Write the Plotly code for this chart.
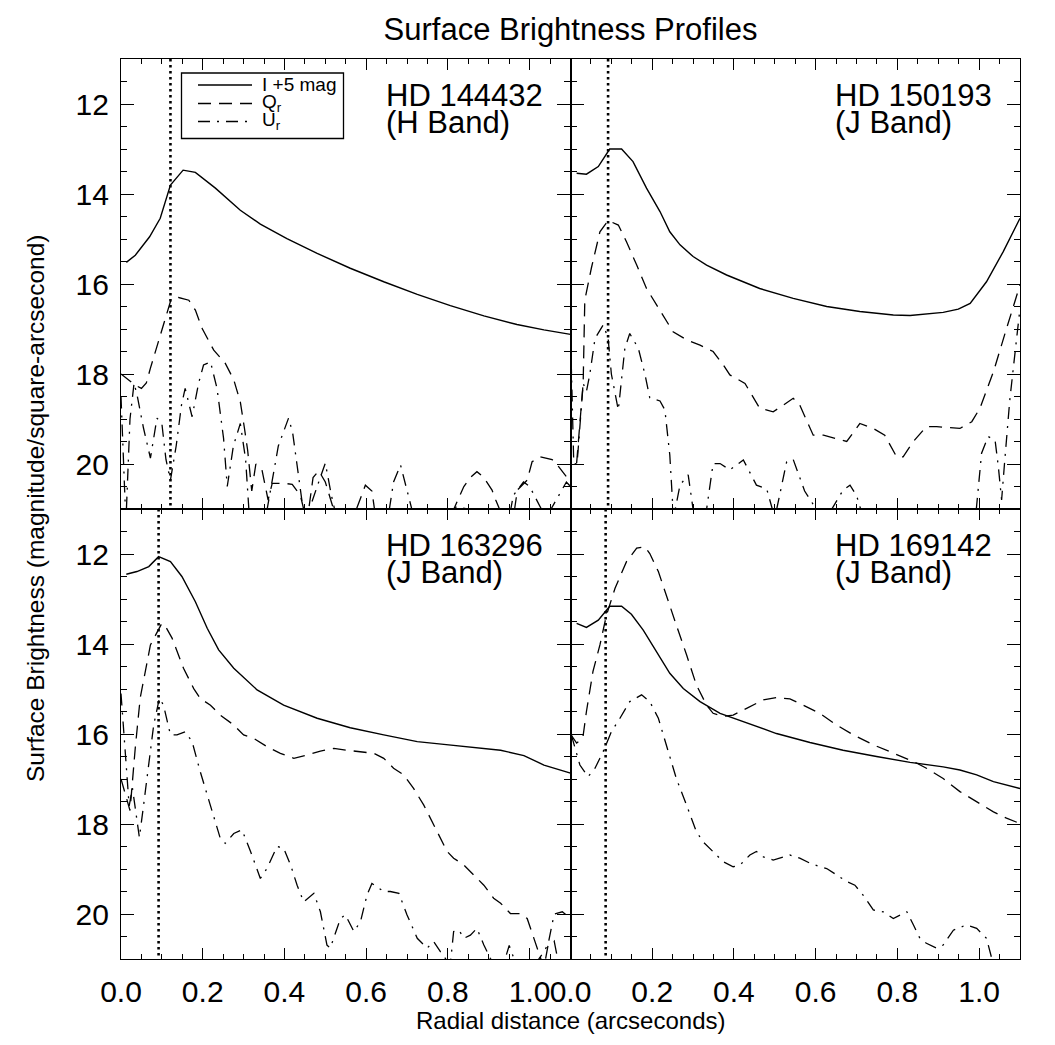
import plotly.graph_objects as go
from plotly.subplots import make_subplots

# ---------------- data ----------------
panel_names = ["HD 144432", "HD 150193", "HD 163296", "HD 169142"]
panel_bands = ["(H Band)", "(J Band)", "(J Band)", "(J Band)"]
dotted_x = [0.121, 0.092, 0.092, 0.086]
x_ticks = [0.0, 0.2, 0.4, 0.6, 0.8, 1.0]
y_ticks = [12, 14, 16, 18, 20]
legend_names = ["I +5 mag", "Q<sub>r</sub>", "U<sub>r</sub>"]

# Panel 1: HD 144432
p1_I_x = [0.013, 0.035, 0.07, 0.096, 0.121, 0.152, 0.182, 0.231, 0.292, 0.341, 0.406, 0.48, 0.561,
          0.643, 0.725, 0.806, 0.888, 0.969, 1.035, 1.1]
p1_I = [15.52, 15.36, 14.95, 14.54, 13.8, 13.47, 13.52, 13.87, 14.36, 14.67, 14.99, 15.32, 15.65,
        15.95, 16.23, 16.48, 16.71, 16.9, 17.02, 17.12]
p1_Q_x = [0.0, 0.02, 0.035, 0.05, 0.062, 0.072, 0.096, 0.121, 0.141, 0.166, 0.182, 0.198, 0.227,
          0.255, 0.276, 0.292, 0.302, 0.31, 0.32, 0.33, 0.345, 0.36, 0.37, 0.398, 0.419, 0.439,
          0.455, 0.47, 0.484, 0.5, 0.53, 0.56, 0.598, 0.614, 0.625, 0.7, 0.8, 0.839, 0.855, 0.871,
          0.888, 0.908, 0.917, 0.94, 0.96, 0.97, 0.994, 1.006, 1.026, 1.055, 1.071, 1.092, 1.1]
p1_Q = [18.0, 18.15, 18.25, 18.32, 18.2, 17.87, 17.13, 16.39, 16.3, 16.36, 16.58, 16.98, 17.47,
        17.76, 18.13, 18.62, 19.2, 19.7, 20.6, 20.0, 20.13, 20.8, 20.43, 20.43, 20.45, 20.7,
        21.3, 20.3, 20.15, 20.4, 21.3, 21.4, 20.47, 20.6, 21.3, 21.4, 21.3, 20.5, 20.3, 20.17,
        20.3, 20.58, 20.8, 21.3, 21.2, 20.58, 20.36, 19.95, 19.84, 19.9, 20.06, 20.3, 20.4]
p1_U_x = [0.0, 0.012, 0.022, 0.032, 0.04, 0.055, 0.072, 0.088, 0.1, 0.11, 0.121, 0.135, 0.148,
          0.157, 0.174, 0.19, 0.202, 0.219, 0.235, 0.251, 0.26, 0.275, 0.292, 0.305, 0.315, 0.35,
          0.385, 0.41, 0.42, 0.435, 0.45, 0.48, 0.5, 0.515, 0.53, 0.65, 0.667, 0.684, 0.7, 0.72,
          0.8, 0.82, 0.85, 0.9, 0.95, 0.96, 0.985, 1.0, 1.04, 1.07, 1.09, 1.1]
p1_U = [18.5, 21.3, 19.0, 18.2, 18.5, 19.2, 19.87, 18.98, 19.1, 19.9, 20.36, 19.6, 18.69,
        18.32, 18.95, 18.2, 17.8, 17.73, 18.32, 19.43, 20.5, 19.6, 19.1, 19.9, 21.3, 21.4,
        19.6, 18.98, 19.3, 20.3, 21.3, 20.5, 19.98, 20.7, 21.3, 21.4, 20.4, 20.02, 20.58, 21.3,
        21.4, 20.95, 21.0, 21.3, 21.2, 20.7, 20.4, 20.5, 21.2, 20.7, 20.4, 20.5]

# Panel 2: HD 150193
p2_I_x = [0.015, 0.039, 0.068, 0.096, 0.125, 0.153, 0.186, 0.219, 0.243, 0.268, 0.3, 0.333, 0.382,
          0.463, 0.545, 0.627, 0.708, 0.79, 0.831, 0.912, 0.949, 0.978, 1.018, 1.059, 1.1]
p2_I = [13.54, 13.56, 13.39, 13.0, 13.0, 13.28, 13.87, 14.39, 14.84, 15.13, 15.39, 15.58, 15.8,
        16.1, 16.32, 16.5, 16.61, 16.69, 16.7, 16.63, 16.56, 16.43, 15.95, 15.28, 14.54]
p2_Q_x = [0.015, 0.019, 0.031, 0.035, 0.051, 0.072, 0.092, 0.117, 0.137, 0.162, 0.186, 0.211,
          0.251, 0.284, 0.317, 0.349, 0.374, 0.39, 0.427, 0.463, 0.496, 0.521, 0.545, 0.561,
          0.594, 0.619, 0.651, 0.676, 0.708, 0.741, 0.769, 0.798, 0.814, 0.839, 0.871, 0.896,
          0.953, 0.982, 1.002, 1.035, 1.067, 1.1]
p2_Q = [19.98, 19.54, 18.2, 16.36, 15.65, 14.84, 14.59, 14.69, 15.06, 15.58, 16.1, 16.47,
        17.06, 17.24, 17.36, 17.5, 17.8, 18.02, 18.21, 18.76, 18.84, 18.69, 18.54, 18.69,
        19.36, 19.36, 19.43, 19.5, 19.1, 19.21, 19.36, 19.84, 19.84, 19.5, 19.17, 19.17,
        19.21, 19.06, 18.76, 17.95, 16.99, 16.02]
p2_U_x = [0.0, 0.008, 0.016, 0.031, 0.039, 0.047, 0.06, 0.08, 0.092, 0.1, 0.117, 0.133, 0.145,
          0.166, 0.182, 0.194, 0.219, 0.231, 0.243, 0.252, 0.268, 0.288, 0.303, 0.33, 0.349,
          0.366, 0.39, 0.423, 0.455, 0.48, 0.5, 0.529, 0.545, 0.573, 0.594, 0.62, 0.667, 0.684,
          0.7, 0.72, 0.99, 1.006, 1.022, 1.039, 1.047, 1.055, 1.062, 1.075, 1.084, 1.1]
p2_U = [17.1, 19.99, 20.0, 18.21, 18.39, 18.02, 17.21, 16.91, 17.2, 18.0, 18.8, 17.43, 17.1,
        17.43, 18.0, 18.53, 18.6, 18.8, 19.8, 21.2, 20.47, 20.24, 21.2, 21.2, 19.99,
        19.99, 20.13, 19.91, 20.47, 20.55, 21.2, 19.95, 19.9, 20.6, 20.9, 21.3, 20.58, 20.47,
        20.7, 21.3, 21.3, 19.76, 19.39, 19.47, 20.06, 20.8, 20.0, 18.58, 17.84, 16.54]

# Panel 3: HD 163296
p3_I_x = [0.013, 0.039, 0.068, 0.092, 0.121, 0.149, 0.182, 0.211, 0.239, 0.276, 0.333, 0.398,
          0.48, 0.561, 0.643, 0.725, 0.79, 0.847, 0.929, 0.986, 1.035, 1.1]
p3_I = [12.45, 12.39, 12.28, 12.06, 12.17, 12.5, 13.06, 13.65, 14.13, 14.54, 15.02, 15.36,
        15.65, 15.86, 16.02, 16.17, 16.23, 16.28, 16.36, 16.48, 16.69, 16.87]
p3_Q_x = [0.0, 0.012, 0.022, 0.035, 0.047, 0.072, 0.1, 0.109, 0.125, 0.153, 0.178, 0.194, 0.219,
          0.243, 0.276, 0.3, 0.325, 0.357, 0.39, 0.423, 0.455, 0.488, 0.521, 0.553, 0.586,
          0.619, 0.643, 0.667, 0.692, 0.716, 0.741, 0.765, 0.782, 0.798, 0.814, 0.839, 0.863,
          0.888, 0.912, 0.929, 0.953, 0.978, 0.994, 1.01, 1.027, 1.035, 1.045, 1.06, 1.075]
p3_Q = [17.0, 17.4, 17.7, 16.3, 15.2, 14.02, 13.54, 13.61, 13.87, 14.54, 14.99, 15.21, 15.36,
        15.58, 15.8, 16.02, 16.1, 16.28, 16.43, 16.54, 16.47, 16.38, 16.32, 16.36, 16.39,
        16.43, 16.54, 16.76, 16.91, 17.21, 17.58, 18.02, 18.32, 18.61, 18.76, 18.91, 19.13,
        19.36, 19.65, 19.76, 19.99, 19.99, 20.1, 20.54, 20.99, 21.2, 20.7, 20.6, 21.3]
p3_U_x = [0.0, 0.012, 0.02, 0.028, 0.035, 0.045, 0.055, 0.068, 0.08, 0.094, 0.104, 0.121,
          0.137, 0.157, 0.174, 0.194, 0.219, 0.243, 0.255, 0.276, 0.296, 0.317, 0.341, 0.357,
          0.382, 0.398, 0.415, 0.431, 0.447, 0.472, 0.488, 0.504, 0.512, 0.537, 0.549, 0.57,
          0.586, 0.602, 0.614, 0.643, 0.659, 0.68, 0.7, 0.725, 0.749, 0.765, 0.782, 0.794,
          0.805, 0.814, 0.827, 0.839, 0.855, 0.871, 0.888, 0.904, 0.93, 0.95, 0.97, 1.0, 1.03,
          1.045, 1.06, 1.08, 1.1]
p3_U = [15.1, 16.7, 17.6, 17.2, 17.7, 18.3, 17.6, 16.6, 15.8, 15.2, 15.36, 16.02,
        16.02, 15.95, 16.17, 16.84, 17.58, 18.32, 18.43, 18.21, 18.13, 18.61, 19.21, 18.99,
        18.5, 18.54, 18.91, 19.36, 19.73, 19.54, 19.95, 20.69, 20.76, 20.1, 20.02, 20.39,
        20.17, 19.58, 19.32, 19.5, 19.5, 19.54, 20.02, 20.54, 20.76, 20.61, 20.84, 20.99,
        21.2, 20.39, 20.36, 20.54, 20.47, 20.32, 20.69, 20.99, 21.3, 20.7, 21.2, 21.3, 20.9,
        20.68, 20.0, 19.95, 20.1]

# Panel 4: HD 169142
p4_I_x = [0.015, 0.039, 0.068, 0.096, 0.125, 0.149, 0.178, 0.211, 0.243, 0.276, 0.317, 0.366,
          0.431, 0.504, 0.586, 0.667, 0.749, 0.831, 0.912, 0.953, 0.994, 1.035, 1.1]
p4_I = [13.54, 13.63, 13.47, 13.16, 13.16, 13.34, 13.69, 14.17, 14.65, 14.99, 15.28, 15.54,
        15.76, 15.99, 16.19, 16.36, 16.5, 16.63, 16.73, 16.8, 16.91, 17.06, 17.21]
p4_Q_x = [0.0, 0.015, 0.03, 0.039, 0.055, 0.072, 0.088, 0.109, 0.137, 0.162, 0.182, 0.194,
          0.215, 0.235, 0.259, 0.284, 0.308, 0.333, 0.349, 0.374, 0.398, 0.431, 0.472, 0.504,
          0.537, 0.57, 0.61, 0.651, 0.692, 0.741, 0.79, 0.839, 0.871, 0.912, 0.953, 0.994,
          1.035, 1.067, 1.1]
p4_Q = [16.0, 16.2, 16.1, 15.5, 14.61, 14.02, 13.36, 12.76, 12.17, 11.87, 11.84, 11.99,
        12.39, 12.91, 13.58, 14.24, 14.91, 15.36, 15.54, 15.61, 15.58, 15.43, 15.24, 15.19,
        15.22, 15.36, 15.54, 15.8, 16.02, 16.24, 16.43, 16.61, 16.76, 16.99, 17.28, 17.5,
        17.73, 17.87, 17.99]
p4_U_x = [0.002, 0.023, 0.043, 0.06, 0.08, 0.1, 0.121, 0.145, 0.174, 0.194, 0.215, 0.235,
          0.259, 0.284, 0.308, 0.325, 0.349, 0.374, 0.398, 0.415, 0.439, 0.455, 0.472, 0.496,
          0.521, 0.537, 0.561, 0.586, 0.61, 0.627, 0.651, 0.676, 0.696, 0.716, 0.741, 0.765,
          0.79, 0.823, 0.839, 0.855, 0.871, 0.896, 0.912, 0.937, 0.969, 0.994, 1.018, 1.031,
          1.05]
p4_U = [16.02, 16.69, 16.95, 16.76, 16.39, 15.95, 15.65, 15.28, 15.13, 15.28, 15.65, 16.24,
        16.99, 17.58, 18.17, 18.4, 18.61, 18.84, 18.95, 18.91, 18.69, 18.61, 18.73, 18.8,
        18.73, 18.69, 18.76, 18.87, 18.95, 18.99, 19.13, 19.28, 19.36, 19.58, 19.91, 19.95,
        20.1, 19.95, 20.24, 20.54, 20.65, 20.76, 20.69, 20.36, 20.24, 20.32, 20.54, 20.99,
        21.5]

panels = [
    (p1_I_x, p1_I, p1_Q_x, p1_Q, p1_U_x, p1_U),
    (p2_I_x, p2_I, p2_Q_x, p2_Q, p2_U_x, p2_U),
    (p3_I_x, p3_I, p3_Q_x, p3_Q, p3_U_x, p3_U),
    (p4_I_x, p4_I, p4_Q_x, p4_Q, p4_U_x, p4_U),
]

# ---------------- figure ----------------
FONT = "Liberation Sans, Arial, Helvetica, sans-serif"
W, H = 1055, 1045
ML, MR, MT, MB = 121, 35, 59, 86
PW, PH = W - ML - MR, H - MT - MB


def px_x(p):
    return (p - ML) / PW


def px_y(p):
    return 1 - (p - MT) / PH


fig = make_subplots(rows=2, cols=2, horizontal_spacing=0, vertical_spacing=0)

dashes = [None, "13px,8px", "12px,7px,2px,7px"]
styles = [dict(color="black", width=1.4),
          dict(color="black", width=1.3, dash=dashes[1]),
          dict(color="black", width=1.3, dash=dashes[2])]

for i, (ix, iy, qx, qy, ux, uy) in enumerate(panels):
    r, c = i // 2 + 1, i % 2 + 1
    for k, (xx, yy) in enumerate([(ix, iy), (qx, qy), (ux, uy)]):
        fig.add_trace(go.Scatter(x=xx, y=yy, mode="lines", line=styles[k],
                                 name=legend_names[k], showlegend=False,
                                 hoverinfo="skip"), row=r, col=c)
    # dotted vertical line
    fig.add_trace(go.Scatter(x=[dotted_x[i], dotted_x[i]], y=[11, 21], mode="lines",
                             line=dict(color="black", width=2.6, dash="2.5px,3.5px"),
                             showlegend=False, hoverinfo="skip"), row=r, col=c)
    xa = "x" if i == 0 else f"x{i+1}"
    ya = "y" if i == 0 else f"y{i+1}"
    fig.add_annotation(text=panel_names[i], xref=xa, yref=ya, x=0.643, y=11.8,
                       xanchor="left", yanchor="middle", showarrow=False,
                       font=dict(family=FONT, size=31, color="black"))
    fig.add_annotation(text=panel_bands[i], xref=xa, yref=ya, x=0.643, y=12.4,
                       xanchor="left", yanchor="middle", showarrow=False,
                       font=dict(family=FONT, size=31, color="black"))

# legend box (panel 1)
fig.add_shape(type="rect", xref="paper", yref="paper",
              x0=px_x(181.5), x1=px_x(343.5), y0=px_y(138.5), y1=px_y(73),
              line=dict(color="black", width=1.3), fillcolor="white", layer="above")
leg_rows = [85, 103.5, 121.5]
for k in range(3):
    ln = dict(color="black", width=1.3)
    if dashes[k]:
        ln["dash"] = dashes[k]
    fig.add_shape(type="line", xref="paper", yref="paper",
                  x0=px_x(198), x1=px_x(252), y0=px_y(leg_rows[k]), y1=px_y(leg_rows[k]),
                  line=ln, layer="above")
    fig.add_annotation(text=legend_names[k], xref="paper", yref="paper",
                       x=px_x(260), y=px_y(leg_rows[k]), xanchor="left", yanchor="middle",
                       showarrow=False, font=dict(family=FONT, size=19, color="black"))

axis_common = dict(showline=True, linecolor="black", linewidth=1.3, mirror="allticks",
                   ticks="inside", tickcolor="black", tickwidth=1.3, showgrid=False,
                   zeroline=False, tickfont=dict(family=FONT, size=30, color="black"))

for i in range(4):
    r, c = i // 2 + 1, i % 2 + 1
    fig.update_xaxes(range=[0, 1.1], tickvals=x_ticks, ticktext=[f"{v:.1f}" for v in x_ticks],
                     ticklen=11, minor=dict(ticks="inside", dtick=0.05, tick0=0, ticklen=5,
                                            tickcolor="black", tickwidth=1.2, showgrid=False),
                     showticklabels=(r == 2), ticklabelstandoff=6,
                     row=r, col=c, **axis_common)
    fig.update_yaxes(range=[21, 11], tickvals=y_ticks, ticklen=13,
                     minor=dict(ticks="inside", dtick=0.5, tick0=11, ticklen=6,
                                tickcolor="black", tickwidth=1.2, showgrid=False),
                     showticklabels=(c == 1), ticklabelstandoff=5,
                     row=r, col=c, **axis_common)

fig.add_annotation(text="Radial distance (arcseconds)", xref="paper", yref="paper",
                   x=0.5, y=-(1020 - 959) / PH, xanchor="center", yanchor="middle",
                   showarrow=False, font=dict(family=FONT, size=24, color="black"))
fig.add_annotation(text="Surface Brightness (magnitude/square-arcsecond)", xref="paper",
                   yref="paper", x=(35 - ML) / PW, y=0.5, textangle=-90,
                   xanchor="center", yanchor="middle", showarrow=False,
                   font=dict(family=FONT, size=24.5, color="black"))

fig.update_layout(
    width=W, height=H,
    margin=dict(l=ML, r=MR, t=MT, b=MB),
    paper_bgcolor="white", plot_bgcolor="white",
    title=dict(text="Surface Brightness Profiles", x=0.5, xanchor="center",
               xref="paper", y=1 - 29 / H, yanchor="middle",
               font=dict(family=FONT, size=31, color="black")),
    showlegend=False,
)

fig.write_html("out.html")
